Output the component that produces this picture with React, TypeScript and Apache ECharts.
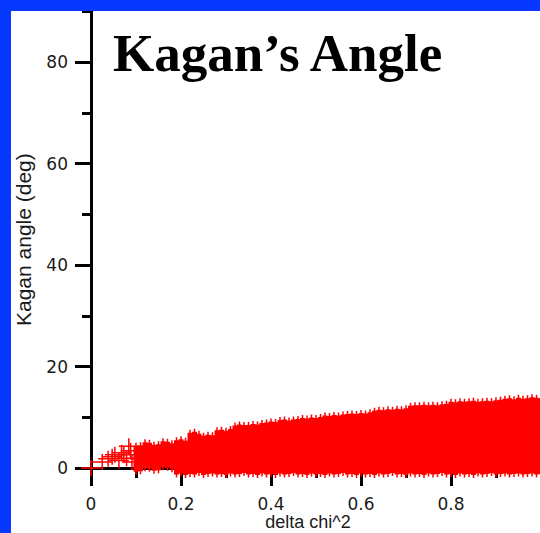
import React, { useEffect, useRef } from "react";
import * as echarts from "echarts";

// Isolated markers at small delta chi^2 (delta chi^2, Kagan angle in degrees)
const sparsePoints: [number, number][] = [
  [0, 0],
  [0.025, 1.2],
  [0.038, 1.8],
  [0.047, 2.2],
  [0.053, 2.6],
  [0.062, 1.5],
  [0.068, 3.0],
  [0.073, 2.6],
  [0.079, 1.9],
  [0.084, 4.3],
  [0.088, 3.4],
  [0.091, 1.2],
];

// Dense cloud, read column by column along delta chi^2
const chi2Steps = [
  0.10, 0.11, 0.12, 0.13, 0.14, 0.15, 0.16, 0.17, 0.18, 0.19,
  0.20, 0.21, 0.22, 0.23, 0.24, 0.25, 0.26, 0.27, 0.28, 0.29,
  0.30, 0.31, 0.32, 0.33, 0.34, 0.35, 0.36, 0.37, 0.38, 0.39,
  0.40, 0.41, 0.42, 0.43, 0.44, 0.45, 0.46, 0.47, 0.48, 0.49,
  0.50, 0.51, 0.52, 0.53, 0.54, 0.55, 0.56, 0.57, 0.58, 0.59,
  0.60, 0.61, 0.62, 0.63, 0.64, 0.65, 0.66, 0.67, 0.68, 0.69,
  0.70, 0.71, 0.72, 0.73, 0.74, 0.75, 0.76, 0.77, 0.78, 0.79,
  0.80, 0.81, 0.82, 0.83, 0.84, 0.85, 0.86, 0.87, 0.88, 0.89,
  0.90, 0.91, 0.92, 0.93, 0.94, 0.95, 0.96, 0.97, 0.98, 0.99,
  1.00,
];

const upperAngles = [
  1.8, 1.9, 2.5, 2.4, 2.0, 2.1, 2.7, 2.6, 2.3, 2.9,
  3.1, 2.8, 4.4, 4.6, 4.2, 3.8, 4.0, 3.9, 4.9, 5.0,
  4.8, 5.1, 5.8, 6.0, 5.9, 5.9, 6.1, 6.0, 6.3, 6.4,
  6.6, 6.5, 6.9, 7.0, 6.8, 7.0, 7.1, 7.3, 7.2, 7.4,
  7.3, 7.5, 7.8, 7.7, 7.9, 7.8, 8.0, 8.1, 8.2, 8.1,
  8.3, 8.2, 8.4, 8.7, 8.9, 8.8, 9.0, 8.9, 9.1, 9.0,
  9.2, 9.7, 9.8, 9.8, 9.9, 9.8, 9.9, 9.8, 10.0, 10.1,
  10.5, 10.4, 10.6, 10.5, 10.6, 10.7, 10.5, 10.6, 10.7, 10.6,
  10.8, 10.9, 11.1, 11.2, 11.0, 11.3, 11.1, 11.2, 11.4, 11.3,
  11.2,
];

const middleAngles: (number | null)[] = [
  null, null, null, null, null, null, null, null, null, null,
  null, null, null, null, null, null, null, null, null, null,
  null, null, null, null, null, null, null, null, 3.6, 3.9,
  3.7, 4.0, 4.1, 4.3, 3.9, 4.4, 4.2, 4.6, 4.5, 4.7,
  4.4, 4.8, 5.0, 4.9, 5.1, 4.8, 5.2, 5.0, 5.3, 5.1,
  5.4, 5.2, 5.5, 5.3, 5.6, 5.4, 5.7, 5.5, 5.8, 5.6,
  5.8, 5.9, 6.0, 5.8, 6.1, 5.9, 6.0, 5.9, 6.1, 6.0,
  6.2, 6.1, 6.3, 6.2, 6.3, 6.2, 6.1, 6.3, 6.2, 6.3,
  6.2, 6.3, 6.4, 6.3, 6.2, 6.4, 6.3, 6.4, 6.4, 6.3,
  6.4,
];

const lowerAngles: (number | null)[] = [
  null, null, null, null, null, null, null, null, null, 1.3,
  1.5, 1.2, 1.4, 1.3, 1.6, 1.2, 1.4, 1.5, 1.3, 1.4,
  1.2, 1.5, 1.3, 1.4, 1.6, 1.3, 1.4, 1.2, 1.5, 1.3,
  1.4, 1.2, 1.5, 1.3, 1.4, 1.6, 1.3, 1.4, 1.2, 1.5,
  1.3, 1.4, 1.2, 1.5, 1.3, 1.4, 1.6, 1.3, 1.4, 1.2,
  1.5, 1.3, 1.4, 1.2, 1.5, 1.3, 1.4, 1.6, 1.3, 1.4,
  1.2, 1.5, 1.3, 1.4, 1.2, 1.5, 1.3, 1.4, 1.6, 1.3,
  1.4, 1.2, 1.5, 1.3, 1.4, 1.2, 1.5, 1.3, 1.4, 1.6,
  1.3, 1.4, 1.5, 1.3, 1.4, 1.5, 1.3, 1.4, 1.5, 1.3,
  1.4,
];

const xMajorTicks = [0, 0.2, 0.4, 0.6, 0.8];
const xMinorTicks = [0.1, 0.3, 0.5, 0.7, 0.9];
const yMajorTicks = [0, 20, 40, 60, 80];
const yMinorTicks = [10, 30, 50, 70, 90];

const RED = "#ff0000";
const BLUE = "#0638ff";
const INK = "#1a1a1a";

// Plus marker with thin arms
const thinPlus = "path://M0 7.25H20V8.75H0Z M9.25 0H10.75V16H9.25Z";
// Plus marker with a heavier vertical stroke, used where markers pile up
const densePlus =
  "path://M0 15.25H14V16.75H0Z M4.5 3H9.5V29H4.5Z M6.25 0H7.75V32H6.25Z";

function cloudPoints(): [number, number][] {
  const pts: [number, number][] = [];
  chi2Steps.forEach((x, i) => {
    const rows = [lowerAngles[i], middleAngles[i], upperAngles[i]];
    rows.forEach((v) => {
      if (v !== null && v !== undefined) pts.push([x, v]);
    });
  });
  return pts;
}

export default function App() {
  const ref = useRef<HTMLDivElement>(null);

  useEffect(() => {
    if (!ref.current) return;
    const chart = echarts.init(ref.current, undefined, { renderer: "svg" });

    const axisLine = { show: true, lineStyle: { color: "#000", width: 3 } };

    chart.setOption({
      animation: false,
      backgroundColor: "#ffffff",
      grid: {
        left: 91,
        right: -1,
        top: 11.25,
        bottom: 65,
        containLabel: false,
        outerBoundsMode: "none",
      },
      xAxis: [
        {
          type: "value",
          min: 0,
          max: 1,
          position: "bottom",
          axisLine: { ...axisLine, onZero: false },
          axisTick: {
            show: true,
            inside: false,
            length: 18,
            customValues: xMajorTicks,
            lineStyle: { color: "#000", width: 3 },
          },
          axisLabel: {
            show: true,
            customValues: xMajorTicks,
            margin: 27,
            color: INK,
            fontFamily: "DejaVu Sans",
            fontSize: 17,
          },
          splitLine: { show: false },
          name: "delta chi^2",
          nameLocation: "middle",
          nameGap: 45,
          nameMoveOverlap: false,
          nameTextStyle: {
            color: INK,
            fontFamily: "Liberation Sans",
            fontSize: 18,
            lineHeight: 17,
            padding: [0, 16, 0, 0],
          },
        },
        {
          type: "value",
          min: 0,
          max: 1,
          position: "bottom",
          axisLine: { show: false, onZero: false },
          axisTick: {
            show: true,
            inside: false,
            length: 10,
            customValues: xMinorTicks,
            lineStyle: { color: "#000", width: 3 },
          },
          axisLabel: { show: false },
          splitLine: { show: false },
        },
      ],
      yAxis: [
        {
          type: "value",
          min: 0,
          max: 90,
          position: "left",
          axisLine: { ...axisLine, onZero: false },
          axisTick: {
            show: true,
            inside: false,
            length: 16,
            customValues: yMajorTicks,
            lineStyle: { color: "#000", width: 3 },
          },
          axisLabel: {
            show: true,
            customValues: yMajorTicks,
            margin: 23,
            color: INK,
            fontFamily: "DejaVu Sans",
            fontSize: 17,
          },
          splitLine: { show: false },
          name: "Kagan angle (deg)",
          nameLocation: "middle",
          nameGap: 57,
          nameRotate: 90,
          nameMoveOverlap: false,
          nameTextStyle: {
            color: INK,
            fontFamily: "Liberation Sans",
            fontSize: 21,
          },
        },
        {
          type: "value",
          min: 0,
          max: 90,
          position: "left",
          axisLine: { show: false, onZero: false },
          axisTick: {
            show: true,
            inside: false,
            length: 9,
            customValues: yMinorTicks,
            lineStyle: { color: "#000", width: 3 },
          },
          axisLabel: { show: false },
          splitLine: { show: false },
        },
      ],
      series: [
        {
          type: "scatter",
          xAxisIndex: 0,
          yAxisIndex: 0,
          clip: false,
          symbol: thinPlus,
          symbolSize: [20, 16],
          itemStyle: { color: RED, opacity: 1 },
          data: sparsePoints,
          z: 3,
        },
        {
          type: "scatter",
          xAxisIndex: 0,
          yAxisIndex: 0,
          clip: false,
          symbol: densePlus,
          symbolSize: [14, 32],
          itemStyle: { color: RED, opacity: 1 },
          data: cloudPoints(),
          z: 3,
        },
      ],
      graphic: [
        {
          type: "text",
          x: 113,
          y: 53,
          z: 10,
          style: {
            text: "Kagan\u2019s Angle",
            font: 'bold 53px "Liberation Serif"',
            fill: "#000",
            textAlign: "left",
            textVerticalAlign: "middle",
            align: "left",
            verticalAlign: "middle",
          },
        },
        {
          type: "rect",
          z: 20,
          shape: { x: 0, y: 0, width: 11, height: 533 },
          style: { fill: BLUE },
        },
        {
          type: "rect",
          z: 20,
          shape: { x: 0, y: 0, width: 540, height: 11 },
          style: { fill: BLUE },
        },
      ],
    });

    return () => chart.dispose();
  }, []);

  return (
    <div
      ref={ref}
      style={{
        position: "fixed",
        left: 0,
        top: 0,
        width: 540,
        height: 533,
        background: "#ffffff",
      }}
    />
  );
}
